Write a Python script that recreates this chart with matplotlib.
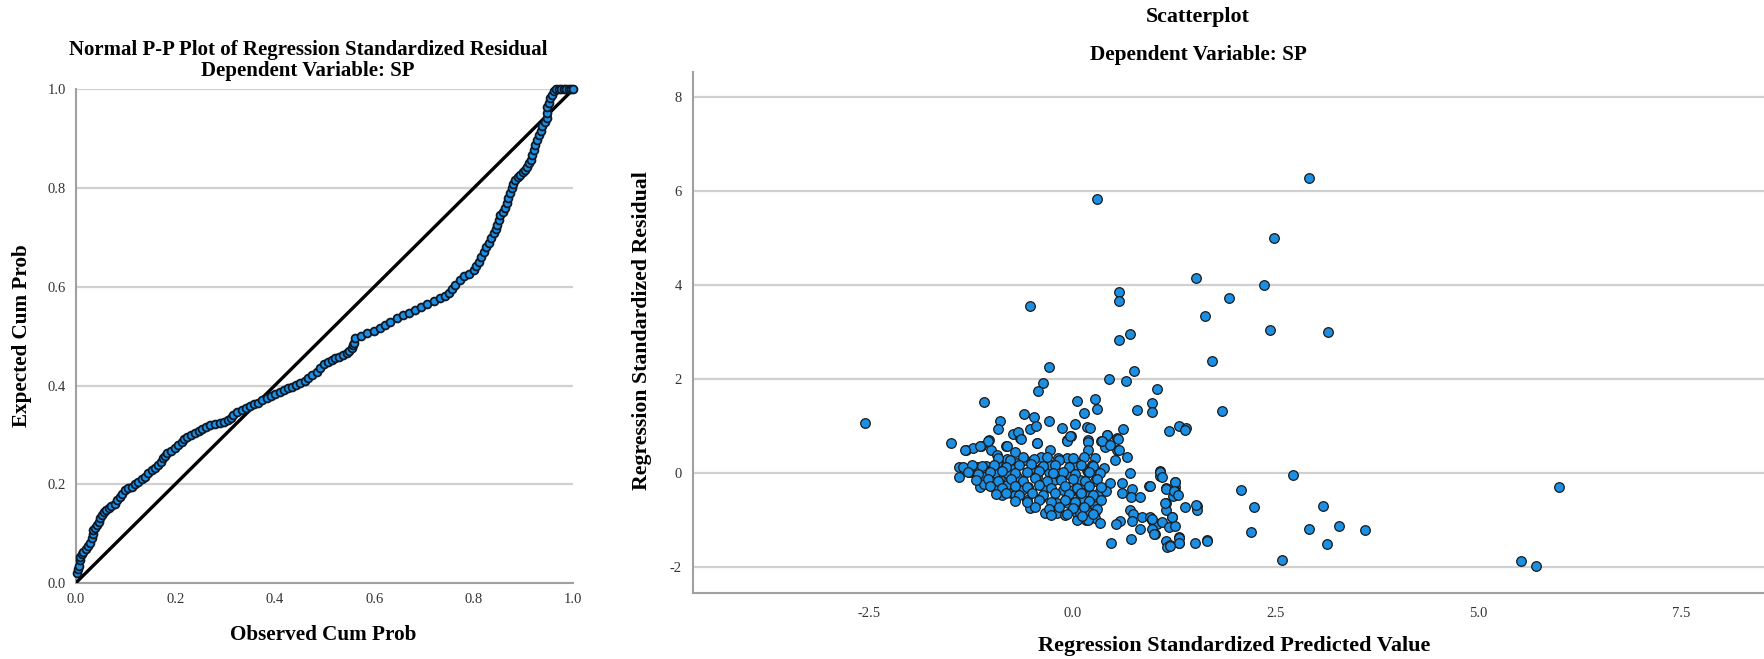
import numpy as np
import matplotlib.pyplot as plt

# P-P plot: observed vs expected cumulative probability
pp_obs = [0.002, 0.004, 0.006, 0.008, 0.009, 0.012, 0.015, 0.020, 0.025, 0.029,
          0.032, 0.034, 0.035, 0.038, 0.042, 0.046, 0.049, 0.052, 0.056, 0.061,
          0.066, 0.072, 0.079, 0.084, 0.089, 0.094, 0.099, 0.106, 0.113, 0.120,
          0.126, 0.133, 0.139, 0.146, 0.153, 0.160, 0.166, 0.171, 0.176, 0.180,
          0.183, 0.191, 0.200, 0.206, 0.213, 0.218, 0.223, 0.231, 0.240, 0.247,
          0.254, 0.262, 0.270, 0.280, 0.290, 0.298, 0.307, 0.312, 0.317, 0.325,
          0.334, 0.342, 0.351, 0.359, 0.367, 0.375, 0.384, 0.392, 0.401, 0.410,
          0.418, 0.426, 0.435, 0.443, 0.451, 0.460, 0.468, 0.476, 0.485, 0.492,
          0.500, 0.508, 0.515, 0.522, 0.530, 0.538, 0.545, 0.550, 0.555, 0.558,
          0.560, 0.562, 0.574, 0.586, 0.599, 0.612, 0.622, 0.632, 0.646, 0.659,
          0.671, 0.683, 0.695, 0.706, 0.720, 0.733, 0.742, 0.750, 0.757, 0.763,
          0.772, 0.780, 0.790, 0.800, 0.805, 0.810, 0.815, 0.820, 0.825, 0.830,
          0.835, 0.840, 0.844, 0.847, 0.851, 0.854, 0.859, 0.864, 0.867, 0.870,
          0.874, 0.877, 0.880, 0.884, 0.889, 0.894, 0.899, 0.904, 0.908, 0.911,
          0.915, 0.918, 0.921, 0.924, 0.928, 0.931, 0.935, 0.938, 0.943, 0.948,
          0.948, 0.948, 0.951, 0.954, 0.957, 0.961, 0.966, 0.971, 0.976, 0.981,
          0.986, 0.992, 0.996, 1.000]
pp_exp = [0.020, 0.028, 0.034, 0.047, 0.053, 0.058, 0.063, 0.068, 0.074, 0.082,
          0.091, 0.099, 0.107, 0.112, 0.118, 0.124, 0.131, 0.137, 0.144, 0.148,
          0.151, 0.156, 0.161, 0.168, 0.175, 0.181, 0.188, 0.192, 0.195, 0.200,
          0.205, 0.210, 0.215, 0.222, 0.229, 0.234, 0.239, 0.246, 0.253, 0.258,
          0.263, 0.268, 0.273, 0.280, 0.286, 0.291, 0.296, 0.300, 0.303, 0.308,
          0.313, 0.317, 0.320, 0.323, 0.325, 0.327, 0.330, 0.335, 0.340, 0.346,
          0.351, 0.355, 0.359, 0.362, 0.365, 0.370, 0.374, 0.379, 0.383, 0.387,
          0.391, 0.395, 0.398, 0.402, 0.406, 0.410, 0.415, 0.421, 0.428, 0.436,
          0.443, 0.448, 0.452, 0.455, 0.458, 0.462, 0.466, 0.471, 0.476, 0.482,
          0.487, 0.496, 0.501, 0.506, 0.511, 0.516, 0.522, 0.529, 0.536, 0.543,
          0.548, 0.553, 0.559, 0.565, 0.571, 0.577, 0.582, 0.587, 0.595, 0.604,
          0.613, 0.621, 0.627, 0.634, 0.642, 0.651, 0.661, 0.671, 0.680, 0.688,
          0.699, 0.709, 0.717, 0.725, 0.736, 0.746, 0.752, 0.759, 0.770, 0.780,
          0.790, 0.800, 0.808, 0.817, 0.822, 0.827, 0.832, 0.837, 0.843, 0.850,
          0.858, 0.867, 0.878, 0.888, 0.898, 0.908, 0.916, 0.925, 0.933, 0.942,
          0.953, 0.965, 0.973, 0.982, 0.989, 0.996, 1.000, 1.000, 1.000, 1.000,
          1.000, 1.000, 1.000, 1.000]

# Scatterplot: standardized predicted value vs standardized residual
pred = [0.31, 2.49, 2.92, 1.53, 2.36, 0.58, 0.58, 1.93, -0.52, 1.64, 2.43, 3.15,
        0.71, 0.57, 1.72, -0.29, 0.76, 0.45, 0.66, -0.36, -0.42, 1.05,
        -2.55, -1.09, 0.06, 0.28, 0.30, 0.14, 0.98, 0.98, 0.80, 1.84,
        -0.59, -0.47, -0.29, -0.89, -0.91, -0.52, -0.45, -0.12, 0.04, 0.18,
        0.63, 1.19, 1.31, 1.40, 1.385, -0.73, -0.64, -1.03, -1.49, -1.31,
        -1.22, -1.12, -1.00, -0.82, -0.44, -0.06, -0.02, 0.20, 0.36, 0.43,
        0.55, 0.55, 0.53, 0.67, 0.40,
        -0.67, -0.63, -0.07, -0.03, -0.43, -1.04, -1.14, -1.32, -0.80, -0.28,
        -0.18, -0.06, 0.06, -0.39, -0.70, -0.93,
        -1.40, -1.40, -1.34, -1.26, -1.17, -1.06, -1.09, -0.93, -0.80, -0.68,
        -0.58, -0.50, -0.74, -0.89, -0.97, -1.13, -1.09, -0.80, -0.76, -0.70,
        -0.87, -0.64, -0.54, -0.43, -0.29, -0.23, -0.33, -0.56, -0.52, -0.33,
        -0.39, -0.19, -0.19, -0.09, 0.06, 0.17, 0.17, -0.05, 0.09, -0.11,
        0.01, 0.13, -0.15, -0.03, 0.10, 0.18, 0.01, -0.26, -0.39, -0.68,
        -0.99, -0.95, -0.80, -0.62, 0.06,
        0.22, 0.43, 0.37, 0.56, 0.46, 0.57, 0.19, 0.19, 0.28, 0.39,
        0.24, 0.71, 1.08, 1.08, 0.47, 0.61, 0.735, 0.61, 0.72, 0.84,
        0.95, 1.16, 1.27, 1.27, 1.27, 1.24, 1.15, 1.16, 1.39, 1.54,
        1.54, 0.71, 0.75, 0.86, 0.96, 0.98, 1.04, 1.10, 1.23, 1.19,
        1.27, 0.59, 0.54, 0.73, 0.84, 0.98, 1.02, 0.48, 0.72, 1.16,
        1.17, 1.21, 1.32, 1.31, 1.51, 1.66, 2.08,
        0.10, 0.14, 0.10, 0.10, 0.20, 0.20, 0.28, 0.28, 0.20, 0.28,
        0.345, 0.41, 0.14, 0.20, 0.10, 0.20, 0.28, 0.28, 0.345, 0.20,
        0.14, 0.28, 0.28,
        1.08, 1.10, 2.72, 0.96, 1.27, 1.15, 1.25, 1.30, 2.24, 1.14,
        1.53, 3.09, 0.985, 1.23, 1.01, 1.31, 1.32, 1.21, 1.66, 2.20,
        2.91, 3.29, 3.61, 3.14, 2.58, 5.53, 5.71, 5.99,
        # dense core of the cloud
        -0.92, -0.77, -0.61, -0.47, -0.31, -0.16, 0.01, 0.14,
        -1.24, -1.11, -0.96, -0.82, -0.66, -0.51, -0.36, -0.21, -0.04, 0.11, 0.26,
        -1.29, -1.16, -1.01, -0.86, -0.71, -0.56, -0.41, -0.24, -0.11, 0.04, 0.21, 0.34,
        -1.19, -1.04, -0.91, -0.76, -0.61, -0.46, -0.31, -0.14, 0.01, 0.16, 0.31,
        -1.01, -0.86, -0.71, -0.56, -0.41, -0.26, -0.09, 0.06, 0.21, 0.36,
        -0.94, -0.81, -0.66, -0.49, -0.36, -0.21, -0.04, 0.11, 0.26,
        -0.71, -0.56, -0.41, -0.26, -0.09, 0.04, 0.21, 0.36,
        -0.46, -0.29, -0.16, 0.01, 0.14, 0.31,
        -0.26, -0.06, 0.12, 0.26]
resid = [5.82, 5.00, 6.26, 4.14, 3.99, 3.85, 3.64, 3.72, 3.55, 3.33, 3.04, 3.00,
         2.94, 2.82, 2.38, 2.24, 2.17, 1.99, 1.94, 1.91, 1.74, 1.77,
         1.06, 1.50, 1.53, 1.56, 1.36, 1.26, 1.49, 1.28, 1.33, 1.31,
         1.24, 1.19, 1.09, 1.09, 0.93, 0.93, 0.99, 0.94, 1.03, 0.97,
         0.92, 0.88, 0.98, 0.95, 0.91, 0.82, 0.73, 0.70, 0.63, 0.48,
         0.52, 0.57, 0.47, 0.57, 0.63, 0.70, 0.77, 0.70, 0.68, 0.80,
         0.73, 0.48, 0.27, 0.34, 0.55,
         0.86, 0.72, 0.68, 0.77, 0.63, 0.68, 0.57, 0.47, 0.57, 0.47,
         0.31, 0.31, 0.20, 0.34, 0.43, 0.38,
         0.11, -0.09, 0.11, 0.02, 0.11, 0.14, -0.09, 0.20, 0.29, 0.20,
         0.27, 0.09, 0.07, -0.12, -0.31, -0.31, -0.24, -0.26, -0.44, -0.47,
         -0.47, -0.16, -0.30, -0.09, 0.02, -0.16, -0.33, -0.58, -0.76, -0.86,
         -0.55, -0.65, -0.86, -0.90, -0.86, -0.83, -1.01, -0.65, -0.62, -0.37,
         -0.37, -0.47, -0.09, -0.05, -0.19, 0.06, 0.13, 0.16, 0.09, -0.09,
         0.07, -0.01, -0.01, -0.37, -1.01,
         0.94, 0.80, 0.68, 0.71, 0.59, 0.48, 0.66, 0.48, 0.31, 0.09,
         0.16, 0.00, 0.03, -0.07, -0.23, -0.23, -0.35, -0.44, -0.52, -0.52,
         -0.28, -0.33, -0.21, -0.31, -0.40, -0.50, -0.64, -0.79, -0.74, -0.71,
         -0.79, -0.79, -0.89, -0.95, -0.94, -1.01, -1.09, -1.06, -0.95, -1.15,
         -1.13, -1.04, -1.09, -1.04, -1.20, -1.21, -1.30, -1.49, -1.42, -1.45,
         -1.59, -1.55, -1.50, -1.37, -1.50, -1.44, -0.37,
         -0.15, -0.30, -0.44, -0.55, -0.37, -0.51, -0.19, -0.01, 0.02, 0.06,
         -0.40, -0.40, -0.72, -0.93, -0.86, -0.83, -0.83, -0.97, -1.08, -1.00,
         -0.58, -0.58, -0.72,
         0.01, -0.085, -0.06, -0.28, -0.21, -0.35, -0.40, -0.47, -0.74, -0.64,
         -0.70, -0.72, -0.99, -0.95, -1.30, -1.40, -1.50, -1.57, -1.45, -1.26,
         -1.20, -1.13, -1.23, -1.52, -1.86, -1.88, -1.99, -0.31,
         0.31, 0.27, 0.33, 0.28, 0.32, 0.26, 0.30, 0.34,
         0.16, 0.13, 0.17, 0.12, 0.16, 0.18, 0.13, 0.17, 0.12, 0.16, 0.14,
         0.02, -0.03, 0.01, 0.03, -0.02, 0.01, 0.04, -0.02, 0.01, -0.03, 0.02, -0.01,
         -0.16, -0.13, -0.18, -0.14, -0.17, -0.12, -0.18, -0.15, -0.13, -0.17, -0.14,
         -0.29, -0.33, -0.28, -0.31, -0.27, -0.32, -0.29, -0.33, -0.28, -0.31,
         -0.46, -0.43, -0.48, -0.44, -0.47, -0.43, -0.46, -0.44, -0.48,
         -0.61, -0.63, -0.59, -0.62, -0.58, -0.63, -0.61, -0.59,
         -0.74, -0.77, -0.73, -0.76, -0.74, -0.77,
         -0.91, -0.89, -0.92, -0.88]

serif = 'Liberation Serif'
blue = '#1a8fe3'
grid_c = '#d0d0d0'
spine_c = '#a0a0a0'

plt.rcParams['font.family'] = serif
plt.rcParams['axes.unicode_minus'] = False
fig = plt.figure(figsize=(17.64, 6.59), dpi=100)

# ---- left: normal P-P plot
ax1 = fig.add_axes([0.0429, 0.1153, 0.282, 0.749])
ax1.set_xlim(0, 1)
ax1.set_ylim(0, 1)
ax1.set_yticks([0.0, 0.2, 0.4, 0.6, 0.8, 1.0])
ax1.set_xticks([0.0, 0.2, 0.4, 0.6, 0.8, 1.0])
ax1.yaxis.grid(True, color=grid_c, lw=1.6)
ax1.set_axisbelow(True)
for s in ['top', 'right']:
    ax1.spines[s].set_visible(False)
for s in ['left', 'bottom']:
    ax1.spines[s].set_color(spine_c)
    ax1.spines[s].set_linewidth(1.5)
ax1.tick_params(length=0, labelsize=10.5, labelcolor='#333333', pad=7)
ax1.set_xticklabels(['0.0', '0.2', '0.4', '0.6', '0.8', '1.0'])
ax1.set_yticklabels(['0.0', '0.2', '0.4', '0.6', '0.8', '1.0'])
ax1.plot([0, 1], [0, 1], color='black', lw=2.4, zorder=3)
ax1.scatter(pp_obs, pp_exp, s=32, c=blue, edgecolors='#0c1826', linewidths=1.3,
            zorder=4, clip_on=False)

fig.text(308 / 1764, 1 - 50 / 659, 'Normal P-P Plot of Regression Standardized Residual',
         ha='center', va='center', fontsize=15, fontweight='bold')
fig.text(308 / 1764, 1 - 71 / 659, 'Dependent Variable: SP',
         ha='center', va='center', fontsize=15, fontweight='bold')
fig.text(323 / 1764, 1 - 635 / 659, 'Observed Cum Prob',
         ha='center', va='center', fontsize=15.2, fontweight='bold')
fig.text(22 / 1764, 1 - 336 / 659, 'Expected Cum Prob', rotation=90,
         ha='center', va='center', fontsize=15.2, fontweight='bold')

# ---- right: residual scatterplot
ax2 = fig.add_axes([0.3929, 0.0997, 0.6071, 0.7915])
ax2.set_xlim(-4.67, 8.52)
ax2.set_ylim(-2.57, 8.53)
ax2.set_yticks([-2, 0, 2, 4, 6, 8])
ax2.set_xticks([-2.5, 0.0, 2.5, 5.0, 7.5])
ax2.set_xticklabels(['-2.5', '0.0', '2.5', '5.0', '7.5'])
ax2.yaxis.grid(True, color=grid_c, lw=1.6)
ax2.set_axisbelow(True)
for s in ['top', 'right']:
    ax2.spines[s].set_visible(False)
for s in ['left', 'bottom']:
    ax2.spines[s].set_color(spine_c)
    ax2.spines[s].set_linewidth(1.5)
ax2.tick_params(length=0, labelsize=10.5, labelcolor='#333333')
ax2.tick_params(axis='x', pad=10)
ax2.tick_params(axis='y', pad=8)
ax2.scatter(pred, resid, s=48, c=blue, edgecolors='#1a1a1a', linewidths=0.9, zorder=3)

fig.text(1198 / 1764, 1 - 17 / 659, 'Scatterplot',
         ha='center', va='center', fontsize=15.8, fontweight='bold')
fig.text(1198 / 1764, 1 - 55 / 659, 'Dependent Variable: SP',
         ha='center', va='center', fontsize=15.3, fontweight='bold')
fig.text(1234 / 1764, 1 - 646 / 659, 'Regression Standardized Predicted Value',
         ha='center', va='center', fontsize=16, fontweight='bold')
fig.text(642 / 1764, 1 - 331 / 659, 'Regression Standardized Residual', rotation=90,
         ha='center', va='center', fontsize=15.7, fontweight='bold')

fig.savefig('out.png', dpi=100)
